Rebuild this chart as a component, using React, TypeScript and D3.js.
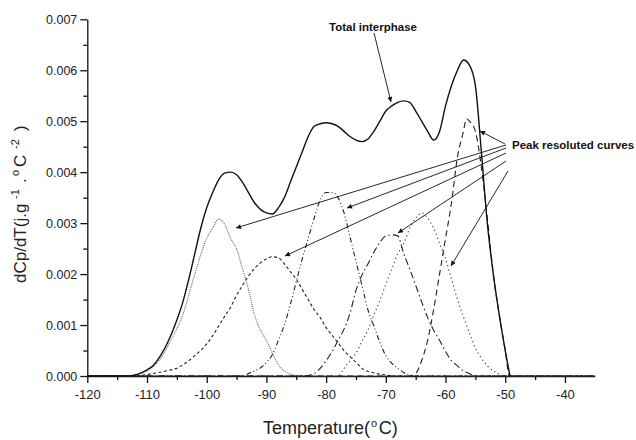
import { useEffect, useRef } from 'react'
import * as d3 from 'd3'

type Pt = [number, number]

// values: [temperature °C, dCp/dT]
const totalCurve: Pt[] = [
  [-120, 0], [-113, 0], [-112, 0.00002], [-111, 0.00006], [-110, 0.00012], [-109, 0.0002],
  [-108, 0.00035], [-107, 0.00055], [-106, 0.0008], [-105, 0.0011], [-104, 0.00145],
  [-103, 0.0019], [-102, 0.0024], [-101, 0.0029], [-100, 0.0033], [-99, 0.0036],
  [-98, 0.00385], [-97, 0.00398], [-96, 0.004], [-95, 0.00395], [-94, 0.0038],
  [-93, 0.0036], [-92, 0.0034], [-91, 0.00327], [-90, 0.0032], [-89, 0.00318],
  [-88, 0.0033], [-87, 0.0035], [-86, 0.0038], [-85, 0.0041], [-84, 0.0044],
  [-83, 0.0047], [-82, 0.0049], [-81, 0.00495], [-80, 0.00497], [-79, 0.00495],
  [-78, 0.0049], [-77, 0.0048], [-76, 0.0047], [-75, 0.00463], [-74, 0.0046],
  [-73, 0.00465], [-72, 0.0048], [-71, 0.005], [-70, 0.0052], [-69, 0.0053],
  [-68, 0.00537], [-67, 0.0054], [-66, 0.00537], [-65, 0.0052], [-64, 0.005],
  [-63, 0.0048], [-62, 0.00463], [-61, 0.0048], [-60, 0.0053], [-59, 0.0057],
  [-58, 0.006], [-57, 0.0062], [-56, 0.0061], [-55, 0.0057], [-54, 0.0044],
  [-53, 0.003], [-52, 0.002], [-51, 0.0012], [-50, 0.0005], [-49.2, 0],
]

const peak1: Pt[] = [
  [-120, 0], [-113, 0], [-112, 0.00002], [-110, 0.0001], [-108, 0.0003], [-106, 0.0007],
  [-104, 0.0012], [-102, 0.002], [-100, 0.0027], [-99, 0.0029], [-98, 0.00308],
  [-97, 0.00298], [-96, 0.0027], [-95, 0.0025], [-94, 0.0021], [-93, 0.0017], [-92, 0.0012],
  [-91, 0.0009], [-90, 0.0007], [-89, 0.00045], [-88, 0.00022], [-87, 0.0001],
  [-86, 0.00004], [-85, 0.00001], [-84, 0], [-35, 0],
]

const peak2: Pt[] = [
  [-120, 0], [-113, 0], [-111, 0.00001], [-110, 0.00003], [-108, 0.00007], [-106, 0.00012],
  [-105, 0.00015], [-104, 0.00022], [-103, 0.0003], [-102, 0.0004], [-101, 0.0005],
  [-100, 0.00063], [-99, 0.00079], [-98, 0.00098], [-97, 0.00117], [-96, 0.00135],
  [-95, 0.00158], [-94, 0.00178], [-93, 0.00196], [-92, 0.00211], [-91, 0.00222],
  [-90, 0.0023], [-89, 0.00234], [-88, 0.00232], [-87, 0.0022], [-86, 0.00205],
  [-85, 0.0019], [-84, 0.0017], [-83, 0.0015], [-82, 0.0013], [-81, 0.00115],
  [-80, 0.00095], [-79, 0.0008], [-78, 0.00065], [-77, 0.0005], [-76, 0.00038],
  [-75, 0.00027], [-74, 0.00015], [-72, 0.00006], [-70, 0.00002], [-68, 0], [-35, 0],
]

const peak3: Pt[] = [
  [-120, 0], [-94, 0], [-93, 0.00005], [-92, 0.0001], [-91, 0.00016], [-90, 0.00027],
  [-89, 0.00042], [-88, 0.0007], [-87, 0.001], [-86, 0.0014], [-85, 0.00185],
  [-84, 0.0023], [-83, 0.0027], [-82, 0.0031], [-81, 0.00345], [-80, 0.0036],
  [-79, 0.0036], [-78, 0.0035], [-77, 0.0032], [-76, 0.00273], [-75, 0.00225],
  [-74, 0.00178], [-73, 0.0013], [-72, 0.00098], [-71, 0.00066], [-70, 0.0004],
  [-69, 0.00025], [-68, 0.00015], [-67, 0.00007], [-66, 0.00002], [-65, 0], [-35, 0],
]

const peak4: Pt[] = [
  [-120, 0], [-84, 0], [-82, 0.00005], [-81, 0.00015], [-80, 0.0003], [-79, 0.00048],
  [-78, 0.0007], [-77, 0.00092], [-76, 0.00123], [-75, 0.00168], [-74, 0.00198],
  [-73, 0.0022], [-72, 0.00243], [-71, 0.00262], [-70, 0.00275], [-69, 0.00277],
  [-68, 0.00275], [-67, 0.0024], [-66, 0.0021], [-65, 0.00178], [-64, 0.00145],
  [-63, 0.00115], [-62, 0.0009], [-61, 0.0007], [-60, 0.00048], [-59, 0.0003],
  [-58, 0.0002], [-57, 0.0001], [-56, 0.00005], [-55, 0], [-35, 0],
]

const peak5: Pt[] = [
  [-120, 0], [-78, 0], [-77, 0.00015], [-76, 0.0003], [-75, 0.00045], [-74, 0.00068],
  [-73, 0.0009], [-72, 0.0012], [-71, 0.00148], [-70, 0.0018], [-69, 0.0021],
  [-68, 0.0024], [-67, 0.0026], [-66, 0.0029], [-65, 0.0031], [-64, 0.0032],
  [-63, 0.0031], [-62, 0.0029], [-61, 0.0026], [-60, 0.0023], [-59, 0.0019],
  [-58, 0.0015], [-57, 0.00116], [-56, 0.00085], [-55, 0.00055], [-54, 0.00035],
  [-53, 0.0002], [-52, 0.0001], [-51, 0.00004], [-50, 0], [-35, 0],
]

const peak6: Pt[] = [
  [-120, 0], [-66, 0], [-65, 0.00005], [-64, 0.0003], [-63, 0.0007], [-62, 0.0013],
  [-61, 0.002], [-60, 0.0027], [-59, 0.0034], [-58, 0.0043], [-57, 0.0048],
  [-56.5, 0.00505], [-56, 0.005], [-55, 0.0048], [-54, 0.0041], [-53, 0.0031],
  [-52, 0.002], [-51, 0.0012], [-50, 0.0005], [-49.3, 0], [-35, 0],
]

const xTicks = [-120, -110, -100, -90, -80, -70, -60, -50, -40]
const yTicks = [0, 0.001, 0.002, 0.003, 0.004, 0.005, 0.006, 0.007]

const peakStyles = [
  { data: peak1, dash: '1,1', color: '#666' },
  { data: peak2, dash: '3,2.5', color: '#222' },
  { data: peak3, dash: '5,2.5,1,2.5,1,2.5', color: '#222' },
  { data: peak4, dash: '7,3,1.5,3', color: '#222' },
  { data: peak5, dash: '1.2,3', color: '#333' },
  { data: peak6, dash: '6,4', color: '#222' },
]

// annotation arrows (pixel space, drawing furniture not data)
const arrows = [
  [[374, 33], [391, 102]],
  [[505, 144], [480, 131]],
  [[506, 145], [236, 228]],
  [[506, 148], [347, 208]],
  [[506, 153], [285, 256]],
  [[506, 161], [398, 233]],
  [[508, 171], [451, 266]],
]

const FONT = '"Liberation Sans", Arial, sans-serif'

export default function App() {
  const svgRef = useRef<SVGSVGElement>(null)

  useEffect(() => {
    if (!svgRef.current) return
    const svg = d3.select(svgRef.current)
    svg.selectAll('*').remove()

    const x = d3.scaleLinear().domain([-120, -35]).range([87.3, 594.8])
    const y = d3.scaleLinear().domain([0, 0.007]).range([376, 19.3])

    const defs = svg.append('defs')
    defs.append('marker').attr('id', 'ah').attr('viewBox', '0 0 10 10')
      .attr('refX', 10).attr('refY', 5).attr('markerWidth', 7).attr('markerHeight', 5)
      .attr('markerUnits', 'userSpaceOnUse').attr('orient', 'auto')
      .append('path').attr('d', 'M0,0L10,5L0,10z').attr('fill', '#111')

    // axes
    const yAxis = svg.append('g').attr('transform', `translate(${x(-120)},0)`)
    yAxis.call(d3.axisLeft(y).tickValues(yTicks).tickFormat(d3.format('.3f')).tickSize(7).tickSizeOuter(0).tickPadding(3))
    yAxis.append('g').call(d3.axisLeft(y).tickValues(d3.range(0.0005, 0.007, 0.001)).tickSize(4).tickFormat(() => ''))
      .call(g => g.select('.domain').remove())
    yAxis.selectAll('.domain, line').attr('stroke', '#111').attr('stroke-width', 1.3)
    yAxis.selectAll('text').attr('font-family', FONT).attr('font-size', 12.5).attr('fill', '#222')

    const xAxis = svg.append('g').attr('transform', `translate(0,${y(0)})`)
    xAxis.call(d3.axisBottom(x).tickValues(xTicks).tickFormat(d => String(d)).tickSize(7).tickSizeOuter(0).tickPadding(7))
    xAxis.append('g').call(d3.axisBottom(x).tickValues(d3.range(-115, -35, 10)).tickSize(4).tickFormat(() => ''))
      .call(g => g.select('.domain').remove())
    xAxis.selectAll('.domain, line').attr('stroke', '#111').attr('stroke-width', 1.3)
    xAxis.selectAll('text').attr('font-family', FONT).attr('font-size', 13).attr('fill', '#222')

    const line = d3.line<Pt>().x(d => x(d[0])).y(d => y(d[1])).curve(d3.curveMonotoneX)

    peakStyles.forEach(p => {
      svg.append('path').datum(p.data).attr('d', line)
        .attr('fill', 'none').attr('stroke', p.color).attr('stroke-width', 1.1)
        .attr('stroke-dasharray', p.dash)
    })

    svg.append('path').datum(totalCurve).attr('d', line)
      .attr('fill', 'none').attr('stroke', '#111').attr('stroke-width', 1.4)

    // annotations
    arrows.forEach(([a, b]) => {
      svg.append('line').attr('x1', a[0]).attr('y1', a[1]).attr('x2', b[0]).attr('y2', b[1])
        .attr('stroke', '#111').attr('stroke-width', 0.9).attr('marker-end', 'url(#ah)')
    })

    svg.append('text').attr('x', 329).attr('y', 31).attr('font-family', FONT)
      .attr('font-size', 11.5).attr('font-weight', 'bold').attr('fill', '#111').text('Total interphase')
    svg.append('text').attr('x', 512).attr('y', 148.5).attr('font-family', FONT)
      .attr('font-size', 11.5).attr('font-weight', 'bold').attr('fill', '#111').text('Peak resoluted curves')

    // axis titles
    svg.append('text').attr('x', 263).attr('y', 434)
      .attr('font-family', FONT).attr('font-size', 18).attr('fill', '#222')
      .call(t => {
        t.append('tspan').text('Temperature(')
        t.append('tspan').attr('dx', 1).attr('dy', -7).attr('font-size', 11).text('o')
        t.append('tspan').attr('dx', 1.5).attr('dy', 7).text('C)')
      })

    svg.append('text').attr('transform', 'translate(25.5,283) rotate(-90)')
      .attr('font-family', FONT).attr('font-size', 17).attr('fill', '#222')
      .call(t => {
        t.append('tspan').attr('x', 0).attr('y', 0).text('dCp/dT(j.g')
        t.append('tspan').attr('x', 84).attr('y', -7).attr('font-size', 11).text('-1')
        t.append('tspan').attr('x', 100).attr('y', 0).text('.')
        t.append('tspan').attr('x', 107).attr('y', -7).attr('font-size', 11).text('o')
        t.append('tspan').attr('x', 116).attr('y', 0).text('C')
        t.append('tspan').attr('x', 134).attr('y', -7).attr('font-size', 11).text('-2')
        t.append('tspan').attr('x', 152).attr('y', 0).text(')')
      })
  }, [])

  return (
    <svg ref={svgRef} width={636} height={440}
      style={{ position: 'absolute', left: 0, top: 0, background: '#fff' }} />
  )
}
